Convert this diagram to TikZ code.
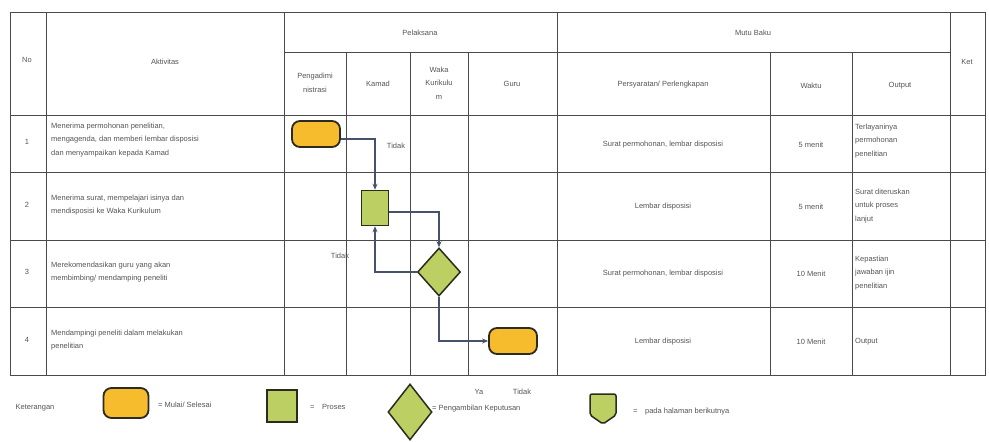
\documentclass[tikz,border=0pt]{standalone}
\usepackage{fontspec}
\setmainfont{Liberation Sans}
\usetikzlibrary{shapes.geometric,arrows.meta,calc}
\definecolor{ink}{HTML}{555555}
\definecolor{rule}{HTML}{4A4A4A}
\definecolor{termfill}{HTML}{F7BC2E}
\definecolor{procfill}{HTML}{BCCF62}
\definecolor{outline}{HTML}{2B2B20}
\definecolor{flowc}{HTML}{46516B}
\begin{document}
\begin{tikzpicture}[x=1pt,y=-1pt,
  tbl/.style={draw=rule, line width=0.7pt},
  txt/.style={text=ink, font=\fontsize{7.5}{13.5}\selectfont, inner sep=0pt},
  term/.style={draw=outline, line width=1.8pt, fill=termfill, rounded corners=8pt, minimum width=48pt, minimum height=26pt},
  proc/.style={draw=outline, line width=1.5pt, fill=procfill, minimum width=27pt, minimum height=35pt, inner sep=0pt},
  dec/.style={diamond, draw=outline, line width=1.5pt, fill=procfill, minimum width=43pt, minimum height=48pt, inner sep=0pt},
  flow/.style={draw=flowc, line width=1.2pt, -{Stealth[length=6pt,width=5pt]}}]
\useasboundingbox (0,0) rectangle (989,442);
\fill[white] (0,0) rectangle (989,442);
% table lines
\draw[tbl] (10,12) rectangle (985,375);
\draw[tbl] (284,52) -- (950,52);
\foreach \y in {115,172,240,307} \draw[tbl] (10,\y) -- (985,\y);
\foreach \x in {46,284,557,950} \draw[tbl] (\x,12) -- (\x,375);
\foreach \x in {346,410,468,770,852} \draw[tbl] (\x,52) -- (\x,375);
% headers
\node[txt] (hno) at (27,60) {No};
\node[txt] (hakt) at (165,62) {Aktivitas};
\node[txt] (hpel) at (420,33) {Pelaksana};
\node[txt] (hmutu) at (753,33) {Mutu Baku};
\node[txt,align=center] (hpeng) at (315,83) {Pengadimi\\nistrasi};
\node[txt] (hkam) at (378,84) {Kamad};
\node[txt,align=center] (hwaka) at (439,83) {Waka\\Kurikulu\\m};
\node[txt] (hguru) at (512,84) {Guru};
\node[txt] (hpers) at (663,85) {Persyaratan/ Perlengkapan};
\node[txt] (hwak) at (811,86) {Waktu};
\node[txt] (hout) at (900,86) {Output};
\node[txt] (hket) at (967,62) {Ket};
% row numbers
\node[txt] (n1) at (27,142) {1};
\node[txt] (n2) at (27,205) {2};
\node[txt] (n3) at (27,272) {3};
\node[txt] (n4) at (27,340) {4};
% activities
\node[txt,anchor=west,align=left] (a1) at (51,140) {Menerima permohonan penelitian,\\mengagenda, dan memberi lembar disposisi\\dan menyampaikan kepada Kamad};
\node[txt,anchor=west,align=left] (a2) at (51,205) {Menerima surat, mempelajari isinya dan\\mendisposisi ke Waka Kurikulum};
\node[txt,anchor=west,align=left] (a3) at (51,272) {Merekomendasikan guru yang akan\\membimbing/ mendamping peneliti};
\node[txt,anchor=west,align=left] (a4) at (51,340) {Mendampingi peneliti dalam melakukan\\penelitian};
% persyaratan
\node[txt] (p1) at (663,145) {Surat permohonan, lembar disposisi};
\node[txt] (p2) at (663,207) {Lembar disposisi};
\node[txt] (p3) at (663,274) {Surat permohonan, lembar disposisi};
\node[txt] (p4) at (663,342) {Lembar disposisi};
% waktu
\node[txt] (w1) at (811,145) {5 menit};
\node[txt] (w2) at (811,207) {5 menit};
\node[txt] (w3) at (811,274) {10 Menit};
\node[txt] (w4) at (811,342) {10 Menit};
% output
\node[txt,anchor=west,align=left] (o1) at (855,141) {Terlayaninya\\permohonan\\penelitian};
\node[txt,anchor=west,align=left] (o2) at (855,206) {Surat diteruskan\\untuk proses\\lanjut};
\node[txt,anchor=west,align=left] (o3) at (855,273) {Kepastian\\jawaban ijin\\penelitian};
\node[txt,anchor=west] (o4) at (855,342) {Output};
% flowchart
\node[term] (start) at (316,134) {};
\node[proc] (sq) at (375,208) {};
\node[dec] (dia) at (439,272) {};
\node[term] (end) at (513,341) {};
\draw[flow] ([yshift=-5pt]start.east) -| (sq.north);
\node[txt] (t1) at (396,146) {Tidak};
\draw[flow] ([yshift=-4pt]sq.east) -| (dia.north);
\draw[flow] (dia.west) -| (sq.south);
\node[txt] (t2) at (340,256) {Tidak};
\draw[flow] (dia.south) |- (end.west);
% legend
\node[txt] (ket) at (35,408) {Keterangan};
\node[term, minimum width=45pt, minimum height=30pt] (lterm) at (126,403) {};
\node[txt,anchor=west] (lterml) at (158,405) {= Mulai/ Selesai};
\node[proc, minimum width=30pt, minimum height=32pt] (lproc) at (282,406) {};
\node[txt,anchor=west] (lprocl) at (310,407) {=\quad Proses};
\node[dec, minimum width=44pt, minimum height=56pt] (ldec) at (410,412) {};
\node[txt,anchor=west] (ldecl) at (432,409) {= Pengambilan Keputusan};
\node[txt] (lya) at (479,392) {Ya};
\node[txt] (ltidak) at (522,392) {Tidak};
\draw[draw=outline, line width=1.5pt, fill=procfill, rounded corners=2pt] (590,394) -- (616,394) -- (616,415) -- (603,424) -- (590,415) -- cycle;
\node[txt,anchor=west] (loffl) at (633,412) {=\quad pada halaman berikutnya};
\end{tikzpicture}
\end{document}
